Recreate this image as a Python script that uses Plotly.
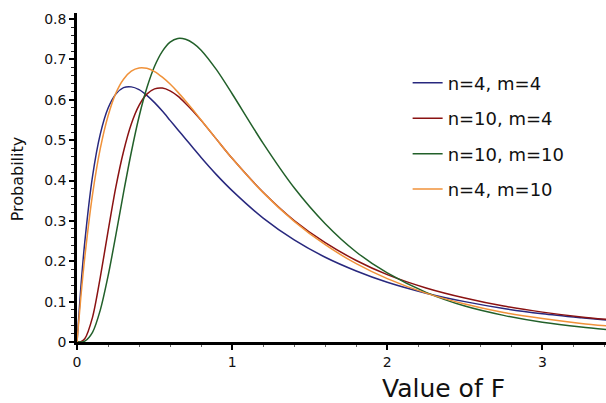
import plotly.graph_objects as go

# F values (x) at which curves were read
x_vals = [0, 0.025, 0.05, 0.1, 0.15, 0.2, 0.25, 0.3, 0.35, 0.4, 0.45, 0.5, 0.55, 0.6, 0.65,
          0.7, 0.75, 0.8, 0.9, 1.0, 1.2, 1.4, 1.6, 1.8, 2.0, 2.25, 2.5, 2.75, 3.0, 3.25, 3.5]

# probability densities
p_n4_m4 = [0, 0.136, 0.247, 0.410, 0.515, 0.579, 0.614, 0.630, 0.632, 0.625, 0.611, 0.593, 0.572, 0.549, 0.526,
           0.503, 0.480, 0.457, 0.414, 0.375, 0.307, 0.253, 0.210, 0.176, 0.148, 0.121, 0.100, 0.083, 0.070, 0.060, 0.051]
p_n10_m4 = [0, 0.001, 0.008, 0.061, 0.160, 0.274, 0.383, 0.472, 0.540, 0.586, 0.614, 0.627, 0.629, 0.622, 0.609,
            0.591, 0.571, 0.549, 0.502, 0.455, 0.371, 0.301, 0.246, 0.202, 0.167, 0.134, 0.109, 0.089, 0.074, 0.062, 0.053]
p_n10_m10 = [0, 0.000, 0.002, 0.024, 0.079, 0.163, 0.264, 0.370, 0.470, 0.558, 0.629, 0.683, 0.720, 0.743, 0.752,
             0.750, 0.740, 0.723, 0.674, 0.615, 0.492, 0.382, 0.293, 0.223, 0.171, 0.123, 0.089, 0.066, 0.049, 0.037, 0.028]
p_n4_m10 = [0, 0.112, 0.209, 0.365, 0.479, 0.560, 0.616, 0.651, 0.671, 0.679, 0.678, 0.670, 0.656, 0.639, 0.619,
            0.597, 0.574, 0.550, 0.502, 0.455, 0.370, 0.299, 0.241, 0.194, 0.157, 0.121, 0.094, 0.073, 0.058, 0.046, 0.037]

series_names = ["n=4, m=4", "n=10, m=4", "n=10, m=10", "n=4, m=10"]
series_values = [p_n4_m4, p_n10_m4, p_n10_m10, p_n4_m10]
series_colors = ["#28287e", "#8a1212", "#22602a", "#f0923a"]

x_ticks = [0, 1, 2, 3]
y_ticks = [0, 0.1, 0.2, 0.3, 0.4, 0.5, 0.6, 0.7, 0.8]
y_tick_text = ["0", "0.1", "0.2", "0.3", "0.4", "0.5", "0.6", "0.7", "0.8"]

fig = go.Figure()
for i, (name, vals, col) in enumerate(zip(series_names, series_values, series_colors)):
    fig.add_trace(go.Scatter(
        x=x_vals, y=vals, name=name, mode="lines",
        line=dict(color=col, width=1.5, shape="spline", smoothing=0.8),
        legendgroup=f"g{i}",
    ))

FONT = "DejaVu Sans"
fig.update_layout(
    width=606, height=403,
    margin=dict(l=77, r=0, t=13, b=61),
    paper_bgcolor="white", plot_bgcolor="white",
    font=dict(family=FONT, color="#111111"),
    showlegend=True,
    legend=dict(
        x=0.625, y=0.843, xanchor="left", yanchor="top",
        font=dict(family=FONT, size=18, color="#111111"),
        bgcolor="rgba(0,0,0,0)", borderwidth=0,
        itemwidth=30, tracegroupgap=9,
    ),
    xaxis=dict(
        range=[0, 3.41], tickvals=x_ticks, ticktext=[str(v) for v in x_ticks],
        showline=True, linecolor="black", linewidth=2.5,
        ticks="outside", ticklen=5, tickwidth=2, tickcolor="black",
        tickfont=dict(family=FONT, size=14, color="#111111"),
        minor=dict(dtick=0.2, ticks="outside", ticklen=2, tickcolor="#666666", tickwidth=1),
        showgrid=False, zeroline=False,
    ),
    yaxis=dict(
        range=[0, 0.815], tickvals=y_ticks, ticktext=y_tick_text,
        showline=True, linecolor="black", linewidth=2.5,
        ticks="outside", ticklen=5, tickwidth=2, tickcolor="black",
        tickfont=dict(family=FONT, size=14, color="#111111"),
        minor=dict(dtick=0.02, ticks="outside", ticklen=3, tickcolor="#222222", tickwidth=1),
        showgrid=False, zeroline=False,
    ),
    annotations=[
        dict(text="Value of F", xref="paper", yref="paper", x=0.692, y=-0.142,
             xanchor="center", yanchor="middle", showarrow=False,
             font=dict(family=FONT, size=25, color="#111111")),
        dict(text="Probability", xref="paper", yref="paper", x=-0.113, y=0.495,
             xanchor="center", yanchor="middle", showarrow=False, textangle=-90,
             font=dict(family=FONT, size=16, color="#111111")),
    ],
)

fig.write_html("out.html")
